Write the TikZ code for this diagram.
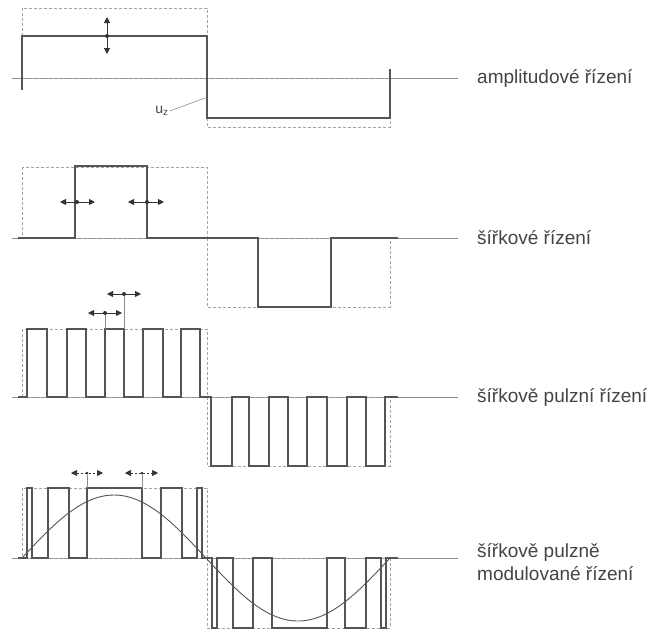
\documentclass[tikz,border=0pt]{standalone}
\usepackage{fontspec}
\setmainfont{Liberation Sans}
\usepackage{tikz}
\usetikzlibrary{calc,arrows.meta}
\definecolor{wavegray}{HTML}{555555}
\definecolor{axisgray}{HTML}{8C8C8C}
\definecolor{textgray}{HTML}{444444}
\tikzstyle{axis} = [draw=axisgray, line width=0.9pt]
\tikzstyle{frame} = [draw=axisgray!80, line width=0.8pt, dash pattern=on 3pt off 2pt]
\tikzstyle{wave} = [draw=wavegray, line width=1.6pt]
\tikzstyle{sine} = [draw=wavegray, line width=0.9pt]
\tikzstyle{dot} = [circle, fill=black!80, inner sep=0pt, minimum size=4pt]
\tikzstyle{shifter} = [line width=0.9pt, black!80, {Triangle[length=6pt,width=6pt]}-{Triangle[length=6pt,width=6pt]}]
\tikzstyle{guide} = [draw=axisgray, line width=0.6pt]
\tikzstyle{label} = [anchor=west, text=textgray, inner sep=0pt, font=\fontsize{19}{23}\selectfont, align=left]

\begin{document}
\begin{tikzpicture}[x=1pt,y=-1pt]
            \useasboundingbox (0,0) rectangle (652,633);
            % amplitudove rizeni
            \draw [axis] (12,78) -- (458,78);
            \draw [frame] (22,8) rectangle (207,78);
            \draw [frame] (207,78) rectangle (390,127);
            \draw [wave] (22,90) -- (22,36) -- (207,36) -- (207,118) -- (390,118) -- (390,69);
            \node (d1) [dot] at (107,36) {};
            \draw [shifter] ($(d1)+(0,-19)$) -- ($(d1)+(0,18)$);
            \node (uz) [text=textgray, font=\fontsize{14}{16}\selectfont, inner sep=1pt] at (162,111) {u\textsubscript{z}};
            \coordinate (uzpt) at (205,98);
            \draw [guide] (uz.east) -- (uzpt);
            \node (amp) [label] at (477,78) {amplitudové řízení};
            % sirkove rizeni
            \draw [axis] (12,238) -- (458,238);
            \draw [frame] (22,167) rectangle (207,238);
            \draw [frame] (207,238) rectangle (390,307);
            \draw [wave] (18,238) -- (75,238) -- (75,166) -- (147,166) -- (147,238) -- (258,238) -- (258,307) -- (331,307) -- (331,238) -- (398,238);
            \node (d2) [dot] at (77,202) {};
            \node (d3) [dot] at (147,202) {};
            \draw [shifter] ($(d2)+(-17,0)$) -- ($(d2)+(18,0)$);
            \draw [shifter] ($(d3)+(-19,0)$) -- ($(d3)+(17,0)$);
            \node (sirka) [label] at (477,238) {šířkové řízení};
            % sirkove pulzni rizeni
            \draw [axis] (12,397) -- (458,397);
            \draw [frame] (22,329) rectangle (207,397);
            \draw [frame] (207,397) rectangle (390,466);
            \draw [wave] (18,397) foreach \a/\b in {27/47,67/86,105/124,143/163,181/200} {-- (\a,397) -- (\a,329) -- (\b,329) -- (\b,397)}
                foreach \a/\b in {211/232,249/269,288/307,327/347,366/385} {-- (\a,397) -- (\a,466) -- (\b,466) -- (\b,397)} -- (398,397);
            \node (d4) [dot] at (105,313) {};
            \node (d5) [dot] at (124,294) {};
            \draw [guide] (d4) -- (105,329);
            \draw [guide] (d5) -- (124,329);
            \draw [shifter] ($(d4)+(-17,0)$) -- ($(d4)+(17,0)$);
            \draw [shifter] ($(d5)+(-17,0)$) -- ($(d5)+(17,0)$);
            \node (pulz) [label] at (477,397) {šířkově pulzní řízení};
            % sirkove pulzne modulovane rizeni
            \draw [axis] (12,558) -- (458,558);
            \draw [frame] (22,488) rectangle (207,558);
            \draw [frame] (207,558) rectangle (390,628);
            \draw [sine] plot[domain=22:390, samples=120, smooth] (\x, {558-63*sin((\x-22)/368*360)});
            \draw [wave] (18,558) foreach \a/\b in {27/32,48/69,87/142,161/182,197/202} {-- (\a,558) -- (\a,488) -- (\b,488) -- (\b,558)}
                foreach \a/\b in {212/217,233/253,272/327,345/366,381/386} {-- (\a,558) -- (\a,628) -- (\b,628) -- (\b,558)} -- (398,558);
            \node (d6) [dot, minimum size=3pt] at (87,473) {};
            \node (d7) [dot, minimum size=3pt] at (142,473) {};
            \draw [guide] (d6) -- (87,488);
            \draw [guide] (d7) -- (142,488);
            \draw [shifter, line width=0.6pt, dash pattern=on 2pt off 2pt] ($(d6)+(-16,0)$) -- ($(d6)+(16,0)$);
            \draw [shifter, line width=0.6pt, dash pattern=on 2pt off 2pt] ($(d7)+(-17,0)$) -- ($(d7)+(16,0)$);
            \node (pwm) [label, anchor=north west] at (477,543) {šířkově pulzně\\modulované řízení};
        \end{tikzpicture}
\end{document}
